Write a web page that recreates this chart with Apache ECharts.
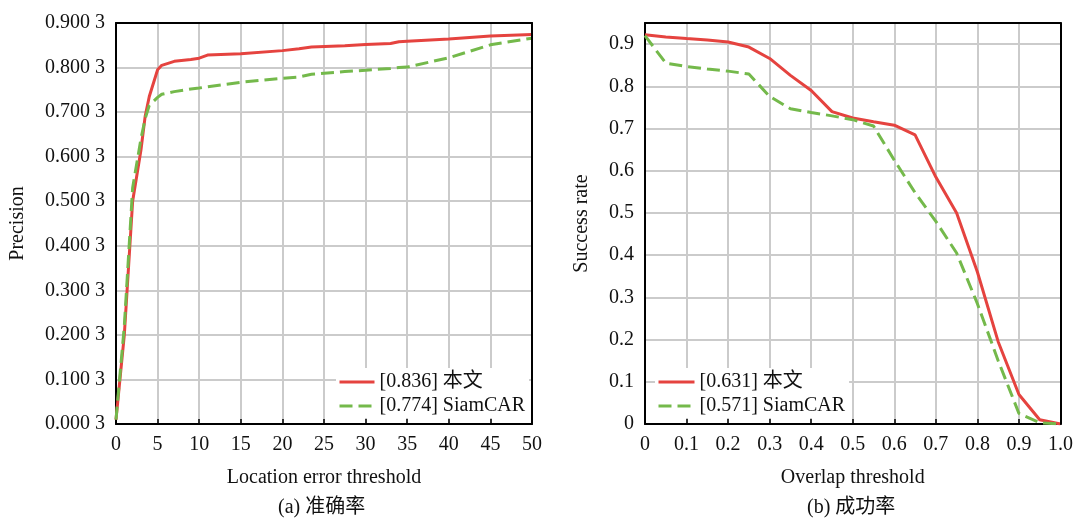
<!DOCTYPE html>
<html>
<head>
<meta charset="utf-8">
<script src="https://cdn.jsdelivr.net/npm/echarts@6/dist/echarts.min.js"></script>
<style>
html,body{margin:0;padding:0;background:#fff;}
#c{width:1076px;height:522px;}
</style>
</head>
<body>
<div id="c"></div>
<script>
// ---------- Data: (a) precision ----------
const precX      = [0, 1, 2, 3, 3.5, 4, 5, 5.5, 7, 9, 10, 11, 15, 20, 22, 23.5, 27.5, 30, 33, 34, 35, 40, 45, 50];
const precOurs   = [0.01, 0.2, 0.5, 0.615, 0.69, 0.735, 0.795, 0.805, 0.814, 0.818, 0.821, 0.828, 0.831, 0.838, 0.842, 0.846, 0.849, 0.852, 0.854, 0.858, 0.859, 0.864, 0.871, 0.874];
const precSiam   = [0.01, 0.22, 0.53, 0.64, 0.685, 0.715, 0.733, 0.74, 0.746, 0.752, 0.754, 0.757, 0.767, 0.776, 0.779, 0.785, 0.791, 0.794, 0.798, 0.8, 0.801, 0.822, 0.851, 0.866];
const precYTickLabels = ['0.000 3','0.100 3','0.200 3','0.300 3','0.400 3','0.500 3','0.600 3','0.700 3','0.800 3','0.900 3'];
const precNames  = ['[0.836] 本文', '[0.774] SiamCAR'];

// ---------- Data: (b) success ----------
const succX      = [0, 0.05, 0.1, 0.15, 0.2, 0.25, 0.3, 0.35, 0.4, 0.45, 0.5, 0.55, 0.6, 0.65, 0.7, 0.75, 0.8, 0.85, 0.9, 0.95, 1.0];
const succOurs   = [0.922, 0.917, 0.913, 0.910, 0.905, 0.893, 0.866, 0.826, 0.790, 0.740, 0.725, 0.716, 0.708, 0.685, 0.585, 0.500, 0.36, 0.195, 0.07, 0.01, 0];
const succSiam   = [0.92, 0.855, 0.847, 0.841, 0.836, 0.829, 0.776, 0.747, 0.738, 0.730, 0.721, 0.706, 0.625, 0.548, 0.480, 0.405, 0.285, 0.15, 0.025, 0.003, 0];
const succXTickLabels = ['0','0.1','0.2','0.3','0.4','0.5','0.6','0.7','0.8','0.9','1.0'];
const succYTickLabels = ['0','0.1','0.2','0.3','0.4','0.5','0.6','0.7','0.8','0.9'];
const succNames  = ['[0.631] 本文', '[0.571] SiamCAR'];

const RED = '#e5433f', GREEN = '#74b94b';
const FONT = "'Liberation Serif', 'Noto Sans CJK SC', serif";
const FS = 20;

function pairs(xs, ys){ return xs.map((x,i)=>[x, ys[i]]); }

const labelStyle = {color: '#111', fontFamily: FONT, fontSize: FS};
const axisCommon = {
  axisLine: {show: true, onZero: false, lineStyle: {color: '#000', width: 2}},
  splitLine: {show: true, lineStyle: {color: '#cbcbcb', width: 2}},
  nameTextStyle: {color: '#111', fontFamily: FONT, fontSize: FS},
  nameLocation: 'middle'
};
// frame-only axes on the opposite sides
function frameAxis(gridIndex, position, min, max){
  return {gridIndex, type: 'value', position, min, max,
    axisLine: {show: true, onZero: false, lineStyle: {color: '#000', width: 2}},
    axisTick: {show: false}, axisLabel: {show: false}, splitLine: {show: false}, z: 8};
}
function legendCfg(names, left, width){
  return {
    data: names, left: left, top: 368, orient: 'vertical',
    itemWidth: width, itemHeight: 12, itemGap: 4,
    itemStyle: {opacity: 0},
    lineStyle: {width: 3},
    textStyle: {fontFamily: FONT, fontSize: FS, color: '#111'},
    backgroundColor: '#fff',
    padding: [4, 4, 2, 2],
    z: 10
  };
}

const chart = echarts.init(document.getElementById('c'), null, {renderer: 'canvas'});
chart.setOption({
  animation: false,
  backgroundColor: '#fff',
  textStyle: {fontFamily: FONT},
  grid: [
    {left: 116, right: 544, top: 23, bottom: 98, containLabel: false},
    {left: 645, right: 14, top: 23, bottom: 98, containLabel: false}
  ],
  xAxis: [
    Object.assign({}, axisCommon, {
      gridIndex: 0, type: 'value', position: 'bottom', min: 0, max: 50, interval: 5,
      name: 'Location error threshold', nameGap: 44,
      axisTick: {show: true, inside: true, length: 5, lineStyle: {color: '#000', width: 1.5}},
      axisLabel: Object.assign({}, labelStyle, {margin: 11})
    }),
    Object.assign({}, axisCommon, {
      gridIndex: 1, type: 'value', position: 'bottom', min: 0, max: 1, interval: 0.1,
      name: 'Overlap threshold', nameGap: 44,
      axisTick: {show: true, inside: true, length: 5, lineStyle: {color: '#000', width: 1.5}},
      axisLabel: Object.assign({}, labelStyle, {margin: 11,
        formatter: v => succXTickLabels[Math.round(v * 10)]})
    }),
    frameAxis(0, 'top', 0, 50),
    frameAxis(1, 'top', 0, 1)
  ],
  yAxis: [
    Object.assign({}, axisCommon, {
      gridIndex: 0, type: 'value', position: 'left', min: 0, max: 0.9, interval: 0.1,
      name: 'Precision', nameGap: 88,
      axisTick: {show: false},
      axisLabel: Object.assign({}, labelStyle, {margin: 11,
        formatter: v => precYTickLabels[Math.round(v * 10)]})
    }),
    Object.assign({}, axisCommon, {
      gridIndex: 1, type: 'value', position: 'left', min: 0, max: 0.95, interval: 0.1,
      name: 'Success rate', nameGap: 53,
      axisTick: {show: false},
      axisLabel: Object.assign({}, labelStyle, {margin: 11, showMaxLabel: false,
        formatter: v => { const i = Math.round(v * 10); return Math.abs(v * 10 - i) < 1e-6 ? succYTickLabels[i] : ''; }})
    }),
    frameAxis(0, 'right', 0, 0.9),
    frameAxis(1, 'right', 0, 0.95)
  ],
  legend: [
    legendCfg(precNames, 336, 35),
    legendCfg(succNames, 655, 36)
  ],
  series: [
    {name: precNames[0], type: 'line', xAxisIndex: 0, yAxisIndex: 0, data: pairs(precX, precOurs),
     showSymbol: false, symbol: 'none', lineStyle: {color: RED, width: 3}, itemStyle: {color: RED}, z: 3},
    {name: precNames[1], type: 'line', xAxisIndex: 0, yAxisIndex: 0, data: pairs(precX, precSiam),
     showSymbol: false, symbol: 'none', lineStyle: {color: GREEN, width: 3, type: [13, 6]}, itemStyle: {color: GREEN}, z: 4},
    {name: succNames[0], type: 'line', xAxisIndex: 1, yAxisIndex: 1, data: pairs(succX, succOurs),
     showSymbol: false, symbol: 'none', lineStyle: {color: RED, width: 3}, itemStyle: {color: RED}, z: 3},
    {name: succNames[1], type: 'line', xAxisIndex: 1, yAxisIndex: 1, data: pairs(succX, succSiam),
     showSymbol: false, symbol: 'none', lineStyle: {color: GREEN, width: 3, type: [13, 6]}, itemStyle: {color: GREEN}, z: 4}
  ],
  graphic: [
    {type: 'text', left: 324 - 46, top: 498, style: {text: '(a) 准确率', font: FS + 'px ' + FONT, fill: '#111'}},
    {type: 'text', left: 853 - 46, top: 498, style: {text: '(b) 成功率', font: FS + 'px ' + FONT, fill: '#111'}}
  ]
});
</script>
</body>
</html>
